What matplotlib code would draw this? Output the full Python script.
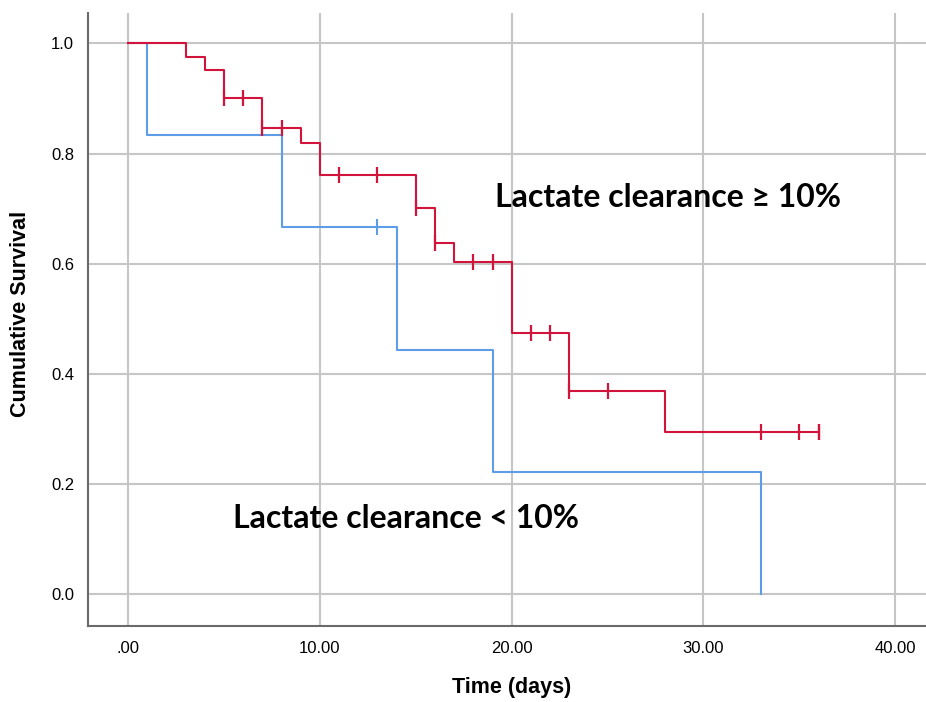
import numpy as np
import matplotlib
matplotlib.use("Agg")
import matplotlib.pyplot as plt

# Lactate clearance >= 10% (red)
red_times = [0, 3, 4, 5, 7, 9, 10, 15, 16, 17, 20, 23, 28, 36]
red_surv = [1.0, 0.976, 0.951, 0.901, 0.847, 0.820, 0.762, 0.701, 0.637, 0.604, 0.475, 0.369, 0.295, 0.295]
red_censor = [5, 6, 7, 8, 11, 13, 15, 16, 18, 19, 21, 22, 23, 25, 33, 35, 36, 36]

# Lactate clearance < 10% (blue)
blue_times = [0, 1, 8, 14, 19, 33]
blue_surv = [1.0, 0.833, 0.667, 0.444, 0.222, 0.0]
blue_censor = [13]

xticks = [0, 10, 20, 30, 40]
xticklabels = [".00", "10.00", "20.00", "30.00", "40.00"]
yticks = [0.0, 0.2, 0.4, 0.6, 0.8, 1.0]
yticklabels = ["0.0", "0.2", "0.4", "0.6", "0.8", "1.0"]

RED = "#d2143c"
BLUE = "#5d9ce6"

def surv_at(times, surv, t):
    idx = np.searchsorted(times, t, side="right") - 1
    return np.asarray(surv)[idx]

fig = plt.figure(figsize=(9.26, 7.02), dpi=100)
ax = fig.add_axes([0.095, 0.108, 0.905, 0.874])

ax.step(blue_times, blue_surv, where="post", color=BLUE, lw=1.5, zorder=3)
ax.step(red_times, red_surv, where="post", color=RED, lw=1.5, zorder=4)
ax.plot(blue_censor, surv_at(blue_times, blue_surv, blue_censor), ls="none",
        marker="|", ms=11, mew=1.5, color=BLUE, zorder=3)
ax.plot(red_censor, surv_at(red_times, red_surv, red_censor), ls="none",
        marker="|", ms=11, mew=1.6, color=RED, zorder=4)

ax.set_xlim(-2.09, 41.6)
ax.set_ylim(-0.058, 1.056)
ax.set_xticks(xticks)
ax.set_xticklabels(xticklabels)
ax.set_yticks(yticks)
ax.set_yticklabels(yticklabels)
ax.grid(True, color="#c6c6c6", lw=1.5, zorder=0)
ax.set_axisbelow(True)
for s in ["top", "right"]:
    ax.spines[s].set_visible(False)
for s in ["left", "bottom"]:
    ax.spines[s].set_color("#6a6a6a")
    ax.spines[s].set_linewidth(1.5)
ax.tick_params(length=0, labelsize=12)
ax.tick_params(axis="y", pad=10)
ax.tick_params(axis="x", pad=11)
for lab in ax.get_xticklabels() + ax.get_yticklabels():
    lab.set_fontfamily("Liberation Sans")

fig.text(512 / 926, 1 - 688 / 702, "Time (days)", fontsize=15.5, fontweight="bold",
         family="Liberation Sans", ha="center", va="center")
fig.text(21 / 926, 1 - 314 / 702, "Cumulative Survival", fontsize=15.5, fontweight="bold",
         family="Liberation Sans", ha="center", va="center", rotation=90)

ax.text(19.15, 0.72, "Lactate clearance \u2265 10%", fontsize=23, fontweight="bold",
        family=["Lato", "DejaVu Sans"], ha="left", va="center", zorder=5)
ax.text(5.45, 0.138, "Lactate clearance < 10%", fontsize=23, fontweight="bold",
        family=["Lato", "DejaVu Sans"], ha="left", va="center", zorder=5)

fig.savefig("out.png", dpi=100)
